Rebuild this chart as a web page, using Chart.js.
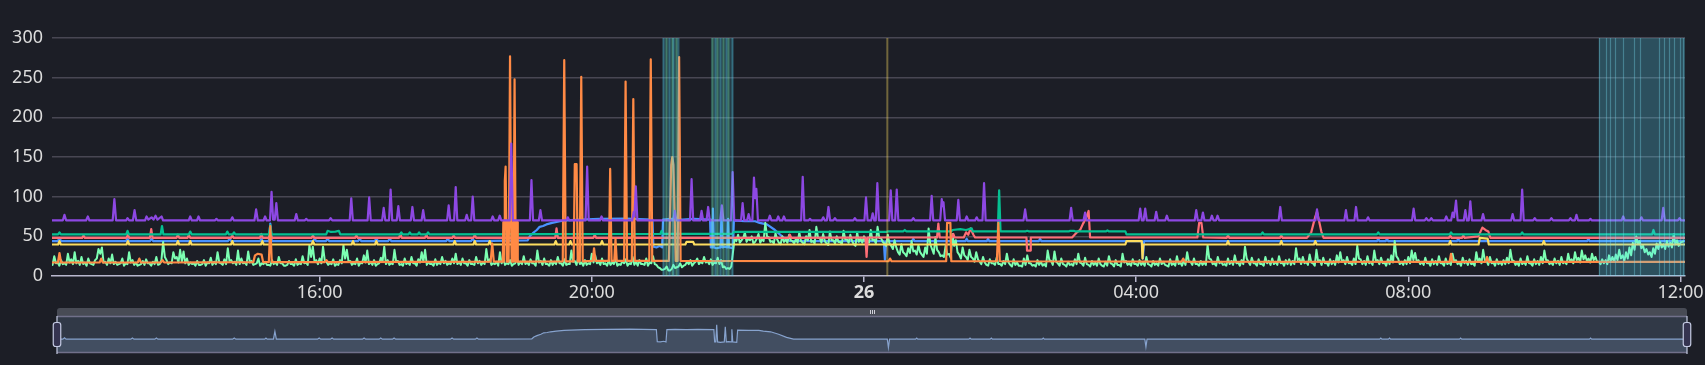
<!DOCTYPE html>
<html><head><meta charset="utf-8">
<script src="https://cdn.jsdelivr.net/npm/chart.js@4.4.1/dist/chart.umd.min.js"></script>
<style>
html,body{margin:0;padding:0;background:#1c1e26;width:1705px;height:365px;overflow:hidden}
#main{position:absolute;left:0;top:0}
#zoom{position:absolute;left:0;top:300px}
</style></head><body>
<canvas id="main" width="1705" height="300"></canvas>
<canvas id="zoom" width="1705" height="65"></canvas>
<script>
// ---- DATA (x = minutes after 12:00 on the 25th, y = value) ----
const xTickMinutes = [240, 480, 720, 960, 1200, 1440];
const xTickLabels = ['16:00', '20:00', '26', '04:00', '08:00', '12:00'];
const yTickValues = [0, 50, 100, 150, 200, 250, 300];

// flat [minute, value, minute, value, ...]
const blueSeries = [0,44, 9.2,44,10.6,48,12,44, 69.2,44,70.6,47,72,44, 90.4,44,91.8,47,93.2,44, 159.2,44,160.6,47,162,44,
 187.5,44,188.6,47,189.7,44, 195.2,44,196.5,66,197.8,44, 234.2,44,235.6,47,237,44, 245.6,44,247,47,248.4,44,
 273.9,44,275.3,47,276.7,44, 288.6,44,290,47,291.4,44, 300.4,44,301.8,47,303.2,44, 351.6,44,353,47,354.4,44,
 373.6,44,375,47,376.4,44, 423.5,45,425.3,50,428,54,431.5,58,434,62,437,63,440,65,445,67,452,69,458,70,470,71,487,72,510,72.5,533.5,71,
 534.3,37,537,36,540,38,542,36,542.8,71, 550,72,560,71,570,72,584.3,71,
 585,36,586,36,586.8,85,587.6,36,590,35,593.5,36,594.4,79,595.3,36,597,37,599.5,36,600.2,72,601,36,604.5,35,605.3,70,
 615,69,624,69,628,67,634.4,65,641.5,58,648.5,49,654.7,44,
 737.5,44,738.5,20,739.5,44, 762.5,44,763.5,47,764.5,44, 809.6,44,810.6,47,811.6,44, 828.4,44,829.4,47,830.4,44,
 874.3,44,875.3,47,876.3,44, 965,44,966,22,967,44, 1172.5,44,1173.5,47,1174.5,44, 1180.2,44,1181.2,47,1182.2,44,
 1243,44,1244,47,1245,44, 1357.8,44,1358.8,47,1359.8,44, 1444,44];

// light green: one value every 3 minutes from minute 0, plus the readings in between (at +1.5 min)
const greenStart = 0, greenStep = 3;
const greenValues = [
 22,18,25,17,20,16,28,21,30,19,24,17,22,15,20,34,36,18,22,27,
 18,15,22,16,30,20,17,14,19,21,16,18,24,15,43,20,17,30,24,33,
 31,22,17,16,19,14,20,17,23,18,30,16,21,35,20,18,32,22,17,31,
 19,15,22,16,18,14,20,17,24,16,13,19,15,21,16,25,17,39,37,20,
 22,37,18,16,21,15,20,39,33,19,16,22,17,26,32,18,20,15,23,37,
 20,16,33,19,15,22,17,24,16,21,30,33,18,15,21,17,24,19,16,22,
 28,18,22,16,20,15,24,19,17,34,21,16,18,30,22,16,20,15,23,18,
 25,17,21,16,32,19,22,15,20,18,24,16,21,15,32,19,23,17,20,16,
 28,26,18,22,16,20,17,23,15,19,21,16,24,18,20,15,22,17,25,14,
 10,8,12,7,14,11,16,13,18,20,16,22,18,24,19,21,17,23,20,12,
 10,12,48,52,45,55,47,50,43,53,46,67,49,44,54,42,50,46,52,44,
 47,55,42,50,58,44,62,48,53,41,56,45,50,43,57,46,52,40,55,47,
 50,44,58,46,62,48,41,52,38,45,30,40,28,35,44,32,39,27,36,60,
 34,49,30,26,38,28,53,45,27,36,24,33,22,30,18,24,14,21,16,23,
 15,19,28,14,21,17,13,22,26,16,14,20,18,15,32,19,31,16,22,14,
 18,15,21,28,16,23,14,19,17,22,13,18,25,15,20,14,28,19,16,21,
 15,20,17,24,14,19,16,22,18,13,21,16,25,17,20,30,18,22,15,19,
 17,39,21,16,24,18,15,22,19,26,17,20,37,18,23,16,21,15,24,19,
 22,18,25,17,20,21,19,35,22,24,18,27,16,33,20,23,17,21,19,26,
 30,20,24,17,22,38,21,19,25,18,32,20,23,17,21,26,44,22,18,20,
 24,32,29,20,18,23,17,21,19,25,16,22,18,28,20,17,23,19,21,16,
 30,22,33,19,24,17,21,18,20,23,33,19,17,22,18,25,16,21,19,24,
 32,20,17,22,19,24,18,28,21,30,23,32,26,22,28,24,18,21,20,26,
 24,27,33,26,30,36,42,50,44,38,34,30,35,41,43,40,44,42,53,45,
 42,44];
const greenMidValues = [
 15,14,16,13,15,14,17,15,16,14,15,13,16,14,22,28,17,14,16,15,
 14,16,13,15,17,14,13,15,14,16,13,15,14,20,24,15,16,22,17,18,
 16,14,15,13,14,15,13,16,14,15,17,14,15,19,16,14,15,16,14,17,
 14,16,13,15,14,13,15,14,16,13,14,15,13,14,15,16,14,24,18,15,
 16,20,14,15,13,14,16,22,18,14,15,13,16,17,15,14,13,16,18,15,
 14,15,18,14,13,15,14,16,13,17,18,14,15,13,14,15,16,14,15,16,
 15,14,16,13,15,14,16,14,15,18,14,15,13,16,14,15,13,16,14,15,
 15,14,16,13,17,14,15,13,14,15,16,13,14,15,18,14,15,13,14,15,
 17,16,14,15,13,14,15,13,14,16,13,15,14,13,15,14,13,16,15,11,
 8,9,7,9,10,12,11,14,15,13,18,15,16,17,15,14,16,15,11,9,
 9,30,44,42,48,43,45,41,47,42,44,50,43,41,46,40,43,42,45,41,
 42,44,40,45,43,41,48,42,44,39,45,41,43,40,46,42,44,38,43,42,
 43,42,45,41,48,43,38,41,34,36,27,30,25,29,31,27,30,24,28,40,
 28,33,25,24,27,23,38,30,22,26,20,24,18,21,15,17,13,16,14,15,
 13,15,17,12,14,13,12,14,16,13,12,14,13,12,20,14,18,13,15,12,
 14,13,15,17,13,15,12,14,13,15,12,13,16,12,14,12,17,14,13,15,
 13,14,13,15,12,14,13,15,14,12,14,13,15,13,14,18,14,15,13,14,
 14,22,15,13,16,14,13,15,14,16,13,15,22,14,16,13,15,13,16,14,
 15,14,16,13,15,14,15,20,15,16,14,17,13,18,14,16,13,15,14,17,
 18,15,16,14,15,22,15,14,16,14,19,15,16,13,15,17,25,15,14,15,
 16,20,18,15,14,16,13,15,14,16,13,15,14,18,15,13,16,14,15,13,
 18,16,20,14,16,13,15,14,15,16,20,14,13,15,14,16,13,15,14,16,
 20,15,14,16,14,16,15,18,16,20,17,21,19,17,20,18,15,16,15,18,
 18,20,22,19,22,26,33,40,35,30,27,24,28,34,36,34,37,36,40,38];

const yellowSeries = [0,39.7, 9.4,39.7,10.6,44,11.8,39.7, 69.7,39.7,70.9,44,72.1,39.7, 113.8,39.7,115,44,116.2,39.7,
 124.7,39.7,125.9,44,127.1,39.7, 161.8,39.7,163,44,164.2,39.7, 188.3,39.7,189.5,44,190.7,39.7, 232.9,39.7,234.1,44,235.3,39.7,
 268.2,39.7,269.4,44,270.6,39.7, 288.8,39.7,290,44,291.2,39.7, 357.9,39.7,359.1,44,360.3,39.7, 375.6,39.7,376.8,44,378,39.7,
 388.8,39.7,390,44,391.2,39.7, 447,39.7,448.2,44,449.4,39.7, 460,39.7,461.2,44,462.4,39.7, 487.8,39.7,489,44,490.2,39.7,
 562.5,39.7,563.5,43,569.4,43,570.4,39.7, 950.5,39.7,951.5,44,965,44,965.6,22,966.4,39.7,
 1039.8,39.7,1041,44,1042.2,39.7, 1086.8,39.7,1088,44,1089.2,39.7, 1116.8,39.7,1118,44,1119.2,39.7,
 1235.8,39.7,1237,44,1238.2,39.7, 1262,39.7,1263,48,1270,47,1271,39.7, 1318.3,39.7,1319.5,44,1320.7,39.7, 1444,39.7];

const redSeries = [0,48, 30.6,48,31.8,51,33,48, 69.7,48,70.9,52,72.1,48, 90.3,48,91.5,59,92.7,48, 113.8,48,115,52,116.2,48,
 123.5,48,124.7,52,125.9,48, 161.8,48,163,51,164.2,48, 187.4,48,188.6,53,189.8,48, 195.3,48,196.5,58,197.7,48,
 232.9,48,234.1,51,235.3,48, 271.2,48,272.4,51,273.6,48, 310,48,311.2,53,312.4,48, 332.9,48,334.1,52,335.3,48,
 357,48,358.2,51,359.4,48, 375.6,48,376.8,52,378,48, 447.7,48,448.9,60,450.1,48, 481.4,48,482.6,52,483.8,48,
 515.1,48,516.3,53,517.5,48, 653.5,48,654.7,52,655.9,48, 721.3,48.5,722.3,24,723.3,48.5,
 784.4,48.5,785.6,66,786.8,48.5, 797.6,48.5,798.8,53,800,48.5, 808,48.5,810,55,812,52,814,60,816.5,52,818,48.5,
 863.3,48.5,863.8,32,866.6,32,867.1,48.5, 903.5,48.5,907,54,910.6,58,913.2,66,915.9,73,918.1,82,919.4,48.5,
 1014,48.5,1015.6,67,1017.6,67,1019.2,48.5, 1039.8,48,1041,51,1042.2,48, 1086.8,48,1088,51,1089.2,48,
 1110.6,48,1114.4,55,1118,75,1119.5,81,1121.5,68,1123.3,56,1125.3,48, 1235.8,48,1237,51,1238.2,48,
 1247.3,48,1248.5,51,1249.7,48, 1261.8,50,1265.3,61,1268,58,1270.6,56,1272.4,48, 1444,48];

const tealSeries = [0,52.5, 9.4,52.5,10.6,55,11.8,52.5, 69.4,52.5,70.6,57,71.8,52.5, 99.8,52.5,101,63,102.2,52.5,
 124.7,52.5,125.9,56,127.1,52.5, 157.4,52.5,158.6,56,159.8,52.5, 163.3,52.5,164.5,55,165.7,52.5, 195.3,52.5,196.5,64,197.7,52.5,
 245.8,52.5,247,57,250,55.5,254,56,257,57,258.2,52.5, 310.8,52.5,312,55,313.2,52.5, 318.3,52.5,319.5,55,320.7,52.5,
 326.5,52.5,327.7,55,328.9,52.5, 334.4,52.5,335.6,55,336.8,52.5, 540.4,53,541.6,57,542.8,53, 604,53,605.3,55.5,
 740,55.5,741,56.3, 754.8,56.3,756,58,757.2,56.3, 797,56.3,798,58,805,59,810,58,815,60,816,56.3,
 838,56.3,839.2,108,840.4,56.3, 862.8,56.3,864,57,865.2,56.3, 901,56.3,902,57,905,57,906,56.3, 933.5,56.3,934.7,57.5,935.9,56.3,
 950.5,56.3,951.5,52.5, 1070.3,52.5,1071.5,55,1072.7,52.5, 1172.3,52.5,1173.5,55,1174.7,52.5, 1236.5,52.5,1237.7,55,1238.9,52.5,
 1299.2,52.5,1300.4,55,1301.6,52.5, 1415,52.5,1416.2,58,1417.4,52.5, 1444,52.5];

const orangeSeries = [0,17, 9.2,17,10.6,29,12,17, 46,17,47.4,22,48.8,17, 79.6,17,81,22,82.4,17, 100.1,17,101.5,20,102.9,17,
 181.5,17.5,183,26,185.5,28,188.8,27,190.2,17.5, 195.2,17.5,196.5,63,197.8,17.5, 244.6,17.5,246,20,247.4,17.5,
 390.8,18,392.2,41,393.6,18,
 401.5,18,402,68,402.4,18,402.8,68,403.3,120,404,138,404.6,68,405,18,405.4,68,405.8,18,406.2,68,406.6,18,407,68,407.9,277,408.8,68,
 409.2,18,409.6,68,410,18,410.4,68,410.8,18,411.2,68,411.9,248,412.7,68,413.1,18,413.5,68,413.9,18,414.3,68,414.7,18,
 454.4,18.5,455.7,272,457,18.5, 464,18.5,465,141,466.6,141,467.6,18.5, 469.4,18.5,470.7,251,472,18.5,
 480.8,19,482,35,483.2,19, 495,19,496.2,135,497.4,19, 499.8,19,500.9,47,502,19, 508.5,19,509.8,245,511.1,19,
 515.3,19,516.6,223,517.9,19, 530.7,19,532,273,533.3,19, 548,19,550,140,551,150,552,140,554,19, 555.7,19,557,276,558.3,19,
 741.7,18.6,743,22,744.3,18.6, 792.5,18.6,793.3,67,796.2,67,797,18.6, 837.2,18.6,838.5,67,839.8,18.6,
 1000.2,18.2,1001.5,22,1002.8,18.2, 1236.4,17.8,1237.7,28,1239,17.8, 1268.2,17.8,1269.5,24,1270.8,17.8, 1444,17.7];

const purpleSeries = [0,70, 13.5,70,15,77,16.5,70, 34,70,35.6,75,37,70, 57.5,70,59,97,60.5,70, 69.3,70,70.6,73,72,70,
 75.3,70,76.8,83,78.3,70, 86,70,87.4,75,89,71,91.8,74,93.5,71,95.3,76,97,71,100.6,75,102,70,
 124.5,70,125.9,75,127.3,70, 131.8,70,133.2,75,134.6,70, 147.6,70,149,72,150.4,70, 161.6,70,163,74,164.4,70,
 182.5,70,184,84,185.5,70, 190.5,70,191.9,75,193.3,70, 196.2,70,197.6,106,199,71,200.4,71,201.8,92,203.2,70,
 218,70,219.4,78,220.8,70, 226.8,70,228.2,72,229.6,70, 248.3,70,249.7,73,251.1,70, 266.5,70,267.9,98,269.3,70,
 282.3,70,283.7,99,285.1,70, 295.1,70,296.5,86,297.9,70, 301.2,70,302.6,109,304,70, 308,70,309.4,88,310.8,70,
 320.4,70,321.8,87,323.2,70, 329.9,70,331.3,83,332.7,70, 352.4,70,353.8,89,355.2,70, 358.6,70,360,112,361.4,70,
 368.3,70,369.7,77,371.1,70, 373.6,70,375,100,376.4,70, 391.2,70,392.6,75,394,70, 397.4,70,398.8,76,400.2,70,
 407.6,70,409,167,410.4,70, 425.4,70,426.8,121,428.2,70, 433.3,70,434.7,83,436.1,70, 457.4,70,458.8,74,460.2,70,
 474.5,70,475.9,138,477.3,70, 487.2,70,488.6,75,490,70, 515.6,70,517,81,517.6,75,518.8,113,520.2,70,
 551.8,70,553.2,82,554.6,70, 566.6,70,568,122,569.4,70, 575.4,70,576.8,82,578.2,70, 581.2,70,582.6,87,584,70,
 593.3,70,594.7,89,596.1,70, 602.8,70,604.2,131,605.6,70, 611.6,70,613,92,614.4,70, 616.9,70,618.3,78,619.7,70,
 621.6,70,623,124,624,98,625.1,110,626.5,70, 635.6,70,637,76,638.4,70, 643,70,644.4,75,645.8,70, 648,70,649.4,75,650.8,70,
 664.6,70,666,125,667.4,70, 671,70,672.4,72,673.8,70, 682.7,70,684.1,74,685.5,70, 687.3,70,688.7,87,690.1,70,
 693,70,694.4,73,695.8,70, 710.6,70,712,73,713.4,70, 720.4,70,721.8,99,723.2,70, 726.3,70,727.7,79,729.1,70,
 730.4,70,731.8,117,733.2,70, 742.2,70,743.6,108,745,70, 747.5,70,748.9,109,750.3,70, 762.1,70,763.5,73,764.9,70,
 778.3,70,779.7,101,781.1,70, 787.2,70,788.6,97,789.3,88,790.1,93,791.5,70, 801.8,70,803.2,96,804.6,70,
 809.2,70,810.6,75,812,70, 818,70,819.4,74,820.8,70, 824.5,70,825.9,117,827.3,70, 860.7,70,862.1,84,863.5,70,
 901.3,70,902.7,86,904.1,70, 913.6,70,915,80,916.4,70, 962.2,70,963.6,85,965,70, 966.6,70,968,85,969.4,70,
 976.3,70,977.7,81,979.1,70, 985.7,70,987.1,76,988.5,70, 1011.6,70,1013,83,1014.4,70, 1017.5,70,1018.9,80,1020.3,70,
 1025.4,70,1026.8,76,1028.2,70, 1030.4,70,1031.8,76,1033.2,70, 1085.7,70,1087.1,87,1088.5,70, 1118.1,70,1119.5,84,1120.9,70,
 1143.6,70,1145,83,1146.4,70, 1152.5,70,1153.9,87,1155.3,70, 1163.1,70,1164.5,74,1165.9,70, 1203.3,70,1204.7,85,1206.1,70,
 1214.5,70,1215.9,73,1217.3,70, 1218.9,70,1220.3,73,1221.7,70, 1232.1,70,1233.5,75,1234.9,70,
 1237.7,70,1239.1,80,1240.3,74,1242.1,95,1243.5,70, 1248.9,70,1250.3,83,1251.7,70, 1253.3,70,1254.7,94,1256.1,70,
 1264.5,70,1265.9,78,1267.3,70, 1290.6,70,1292,78,1293.4,70, 1299,70,1300.4,109,1301.8,70, 1310.1,70,1311.5,73,1312.9,70,
 1324.8,70,1326.2,73,1327.6,70, 1341.6,70,1343,73,1344.4,70, 1346.9,70,1348.3,77,1349.7,70, 1359.2,70,1360.6,72,1362,70,
 1388.1,70,1389.5,75,1390.9,70, 1404.2,70,1405.6,74,1407,70, 1423.4,70,1424.8,86,1426.2,70, 1437.8,70,1439.2,73,1440.6,70, 1444,70];

// event bands (start, end minutes) and the event instants inside them
const bandRanges = [[542.5, 556.3], [585, 604.7], [1368, 1444]];
const bandEvents = [542.9, 545.3, 548.2, 550.4, 551.8, 554.2, 555.7,
 585.6, 588.5, 590.6, 592.9, 595.9, 598.2, 600.3, 603.3,
 1368, 1373.9, 1378.2, 1382.6, 1389.4, 1398.8, 1404.7, 1420.9, 1425.9, 1429.7, 1434.7, 1440, 1442.6];
const markerTimes = [740.6];

// ---- helpers ----
function pairs(a) { const out = []; for (let i = 0; i < a.length; i += 2) out.push({ x: a[i], y: a[i + 1] }); return out; }
const greenPoints = [];
greenValues.forEach((v, i) => {
  greenPoints.push({ x: greenStart + i * greenStep, y: v });
  if (i < greenMidValues.length) greenPoints.push({ x: greenStart + i * greenStep + greenStep / 2, y: greenMidValues[i] });
});

const FONT = '"Noto Sans", "DejaVu Sans", sans-serif';
const X_MIN = 4, X_MAX = 1444;

function lineDs(label, data, color, ecIndex, width) {
  return { label, data, borderColor: color, backgroundColor: color, borderWidth: width || 2.2, pointRadius: 0,
    tension: 0, fill: false, order: -ecIndex, borderJoinStyle: 'round' };
}

const bandPlugin = {
  id: 'bands',
  afterDatasetsDraw(chart) {
    const { ctx, chartArea: a, scales: { x } } = chart;
    ctx.save();
    ctx.beginPath(); ctx.rect(a.left, a.top, a.right - a.left, a.bottom - a.top); ctx.clip();
    const fills = ['rgba(88,217,249,0.16)', 'rgba(88,217,249,0.16)', 'rgba(88,217,249,0.27)'];
    bandRanges.forEach((r, i) => {
      const x1 = x.getPixelForValue(r[0]), x2 = x.getPixelForValue(r[1]);
      ctx.fillStyle = fills[i];
      ctx.fillRect(x1, a.top, x2 - x1, a.bottom - a.top);
    });
    bandEvents.forEach((m, i) => {
      const px = Math.round(x.getPixelForValue(m)) + 0.5;
      const inLast = m >= bandRanges[2][0];
      ctx.strokeStyle = inLast ? 'rgba(120,220,240,0.35)' : (i % 2 ? 'rgba(124,255,178,0.32)' : 'rgba(88,217,249,0.32)');
      ctx.lineWidth = inLast ? 1.2 : 2;
      ctx.beginPath(); ctx.moveTo(px, a.top); ctx.lineTo(px, a.bottom); ctx.stroke();
    });
    markerTimes.forEach(m => {
      const px = x.getPixelForValue(m);
      ctx.strokeStyle = 'rgba(253,221,96,0.38)'; ctx.lineWidth = 2;
      ctx.beginPath(); ctx.moveTo(px, a.top); ctx.lineTo(px, a.bottom); ctx.stroke();
    });
    ctx.restore();
  }
};

new Chart(document.getElementById('main'), {
  type: 'line',
  data: {
    datasets: [
      lineDs('A', pairs(blueSeries), '#4992ff', 0),
      lineDs('B', greenPoints, '#7cffb2', 1, 2),
      lineDs('C', pairs(yellowSeries), '#fddd60', 2),
      lineDs('D', pairs(redSeries), '#ff6e76', 3),
      lineDs('E', pairs(tealSeries), '#05c091', 5),
      lineDs('F', pairs(orangeSeries), '#ff8a45', 6),
      lineDs('G', pairs(purpleSeries), '#8d48e3', 7)
    ]
  },
  options: {
    responsive: false, animation: false, events: [],
    layout: { padding: { top: 38, right: 20, bottom: 0, left: 0 } },
    plugins: { legend: { display: false }, tooltip: { enabled: false } },
    scales: {
      x: {
        type: 'linear', min: X_MIN, max: X_MAX,
        afterBuildTicks: s => { s.ticks = xTickMinutes.map(v => ({ value: v })); },
        afterFit: s => { s.height = 24; },
        ticks: {
          autoSkip: false, maxRotation: 0, padding: 0, color: '#dcdcdc',
          callback: v => { const i = xTickMinutes.indexOf(v); return i >= 0 ? xTickLabels[i] : ''; },
          font: c => ({ family: FONT, size: 18, weight: (c.tick && c.tick.value === 720) ? 'bold' : 'normal' })
        },
        grid: { drawOnChartArea: false, drawTicks: true, tickLength: 6, color: '#B9B8CE', lineWidth: 1.5 },
        border: { display: true, color: '#B9B8CE', width: 1.5 }
      },
      y: {
        min: 0, max: 300,
        afterBuildTicks: s => { s.ticks = yTickValues.map(v => ({ value: v })); },
        afterFit: s => { s.width = 52; },
        ticks: { color: '#dcdcdc', padding: 9, font: { family: FONT, size: 18 } },
        grid: { drawTicks: false, color: c => (c.tick && c.tick.value === 0) ? 'rgba(0,0,0,0)' : '#484753', lineWidth: 1.5 },
        border: { display: false }
      }
    }
  },
  plugins: [bandPlugin]
});

// ---- data-zoom slider (overview of the first series) ----
const sliderChrome = {
  id: 'sliderChrome',
  beforeDatasetsDraw(chart) {
    const { ctx, chartArea: a } = chart;
    ctx.save();
    ctx.fillStyle = 'rgba(135,163,206,0.2)';
    ctx.fillRect(a.left, a.top, a.right - a.left, a.bottom - a.top);
    ctx.restore();
  },
  afterDraw(chart) {
    const { ctx, chartArea: a } = chart;
    ctx.save();
    const bt = a.top - 8, r = 3;
    ctx.fillStyle = 'rgba(176,182,195,0.3)';
    ctx.beginPath();
    ctx.moveTo(a.left, a.top); ctx.lineTo(a.left, bt + r); ctx.quadraticCurveTo(a.left, bt, a.left + r, bt);
    ctx.lineTo(a.right - r, bt); ctx.quadraticCurveTo(a.right, bt, a.right, bt + r); ctx.lineTo(a.right, a.top); ctx.closePath();
    ctx.fill();
    const cx = Math.round((a.left + a.right) / 2);
    ctx.strokeStyle = 'rgba(230,232,240,0.85)'; ctx.lineWidth = 1;
    for (let k = -1; k <= 1; k++) { ctx.beginPath(); ctx.moveTo(cx + k * 2 + 0.5, bt + 2); ctx.lineTo(cx + k * 2 + 0.5, bt + 6); ctx.stroke(); }
    ctx.strokeStyle = '#71708A'; ctx.lineWidth = 1.5;
    ctx.beginPath(); ctx.moveTo(a.left, a.top + 0.5); ctx.lineTo(a.right, a.top + 0.5); ctx.stroke();
    ctx.beginPath(); ctx.moveTo(a.left, a.bottom - 0.5); ctx.lineTo(a.right, a.bottom - 0.5); ctx.stroke();
    [a.left, a.right].forEach(hx => {
      ctx.strokeStyle = '#C5CBE3'; ctx.lineWidth = 1.2;
      ctx.beginPath(); ctx.moveTo(hx, a.top); ctx.lineTo(hx, a.bottom + 1); ctx.stroke();
      const w = 7.5, h = 24, cy = (a.top + a.bottom) / 2;
      const x0 = hx - w / 2, y0 = cy - h / 2, rr = 2.5;
      ctx.beginPath();
      ctx.moveTo(x0 + rr, y0); ctx.lineTo(x0 + w - rr, y0); ctx.quadraticCurveTo(x0 + w, y0, x0 + w, y0 + rr);
      ctx.lineTo(x0 + w, y0 + h - rr); ctx.quadraticCurveTo(x0 + w, y0 + h, x0 + w - rr, y0 + h);
      ctx.lineTo(x0 + rr, y0 + h); ctx.quadraticCurveTo(x0, y0 + h, x0, y0 + h - rr);
      ctx.lineTo(x0, y0 + rr); ctx.quadraticCurveTo(x0, y0, x0 + rr, y0); ctx.closePath();
      ctx.fillStyle = '#353450'; ctx.fill(); ctx.stroke();
    });
    ctx.restore();
  }
};

new Chart(document.getElementById('zoom'), {
  type: 'line',
  data: { datasets: [{ data: pairs(blueSeries), borderColor: '#87A3CE', borderWidth: 1.2,
    backgroundColor: 'rgba(135,163,206,0.2)', fill: 'start', pointRadius: 0, tension: 0 }] },
  options: {
    responsive: false, animation: false, events: [],
    layout: { padding: { left: 57, right: 18, top: 16, bottom: 12 } },
    plugins: { legend: { display: false }, tooltip: { enabled: false } },
    scales: { x: { type: 'linear', display: false, min: X_MIN, max: X_MAX }, y: { display: false, min: 4.5, max: 110 } }
  },
  plugins: [sliderChrome]
});
</script></body></html>
